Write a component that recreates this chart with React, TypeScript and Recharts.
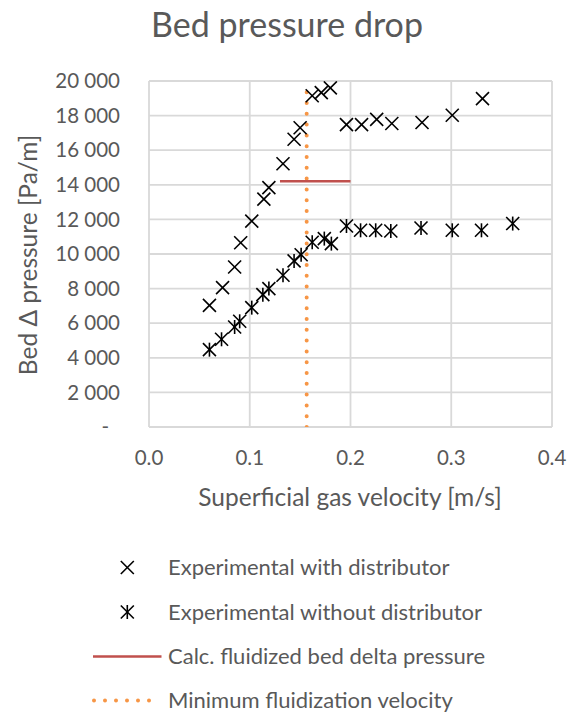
import {
  ComposedChart,
  Scatter,
  Line,
  XAxis,
  YAxis,
  CartesianGrid,
  Legend,
  Customized,
} from 'recharts'

// values
const withDistX = [0.060, 0.073, 0.085, 0.091, 0.102, 0.114, 0.119, 0.133, 0.144, 0.150, 0.162, 0.171, 0.180, 0.196, 0.211, 0.226, 0.241, 0.271, 0.301, 0.331]
const withDistY = [7030, 8060, 9250, 10650, 11900, 13170, 13840, 15220, 16630, 17300, 19150, 19330, 19600, 17480, 17480, 17780, 17540, 17600, 18020, 18980]

const withoutDistX = [0.060, 0.072, 0.085, 0.090, 0.102, 0.113, 0.119, 0.133, 0.144, 0.151, 0.162, 0.174, 0.181, 0.196, 0.210, 0.225, 0.240, 0.270, 0.301, 0.330, 0.361]
const withoutDistY = [4470, 5070, 5780, 6110, 6900, 7650, 8000, 8770, 9600, 9960, 10680, 10890, 10600, 11620, 11370, 11370, 11330, 11500, 11370, 11370, 11760]

const calcLineX = [0.13, 0.2]
const calcLineY = [14200, 14200]

const umfX = [0.1565, 0.1565]
const umfY = [0, 19650]

const xTicks = [0, 0.1, 0.2, 0.3, 0.4]
const yTicks = [0, 2000, 4000, 6000, 8000, 10000, 12000, 14000, 16000, 18000, 20000]

const legendNames = [
  'Experimental with distributor',
  'Experimental without distributor',
  'Calc. fluidized bed delta pressure',
  'Minimum fluidization velocity',
]

const zip = (xs: number[], ys: number[]) => xs.map((x, i) => ({ x, y: ys[i] }))

const withDist = zip(withDistX, withDistY)
const withoutDist = zip(withoutDistX, withoutDistY)
const calcLine = zip(calcLineX, calcLineY)
const umfLine = zip(umfX, umfY)

const FONT = 'Lato, "Noto Sans", sans-serif'
const TEXT = '#595959'
const RED = '#c0504d'
const ORANGE = '#f79646'

const fmtY = (v: number) => (v === 0 ? '-' : String(v).replace(/\B(?=(\d{3})+(?!\d))/g, ' '))

function XMark({ cx, cy, r = 6.5 }: any) {
  return (
    <g stroke="#000" strokeWidth={1.6} fill="none">
      <line x1={cx - r} y1={cy - r} x2={cx + r} y2={cy + r} />
      <line x1={cx - r} y1={cy + r} x2={cx + r} y2={cy - r} />
    </g>
  )
}

function StarMark({ cx, cy, r = 6.5 }: any) {
  return (
    <g stroke="#000" strokeWidth={1.6} fill="none">
      <line x1={cx - r} y1={cy - r} x2={cx + r} y2={cy + r} />
      <line x1={cx - r} y1={cy + r} x2={cx + r} y2={cy - r} />
      <line x1={cx} y1={cy - r - 0.5} x2={cx} y2={cy + r + 0.5} />
    </g>
  )
}

function YTick({ x, y, payload }: any) {
  return (
    <text
      x={payload.value === 0 ? x - 11 : x}
      y={y}
      dy="0.35em"
      textAnchor="end"
      fill={TEXT}
      fontSize={20.5}
      fontFamily={FONT}
    >
      {fmtY(payload.value)}
    </text>
  )
}

function XTick({ x, y, payload }: any) {
  return (
    <text x={x} y={y + 31} dy="0.35em" textAnchor="middle" fill={TEXT} fontSize={20.5} fontFamily={FONT}>
      {payload.value.toFixed(1)}
    </text>
  )
}

function Title() {
  return (
    <g fontFamily={FONT} fill={TEXT}>
      <text x={287} y={37} textAnchor="middle" fontSize={34}>
        Bed pressure drop
      </text>
      <text
        x={28}
        y={255}
        dy="0.35em"
        textAnchor="middle"
        fontSize={24.5}
        transform="rotate(-90 28 255)"
      >
        Bed Δ pressure [Pa/m]
      </text>
      <text x={350} y={497} dy="0.35em" textAnchor="middle" fontSize={24.5}>
        Superficial gas velocity [m/s]
      </text>
    </g>
  )
}

function LegendBox() {
  const rows = [27.5, 72, 116.5, 160.5]
  const tx = 168
  return (
    <svg width={575} height={173} style={{ display: 'block', overflow: 'visible' }}>
      <XMark cx={127.3} cy={rows[0]} />
      <StarMark cx={127.3} cy={rows[1]} />
      <line x1={93} y1={rows[2]} x2={161.5} y2={rows[2]} stroke={RED} strokeWidth={2.5} />
      <line
        x1={94}
        y1={rows[3]}
        x2={160}
        y2={rows[3]}
        stroke={ORANGE}
        strokeWidth={4}
        strokeLinecap="round"
        strokeDasharray="0 11"
      />
      {legendNames.map((n, i) => (
        <text key={n} x={tx} y={rows[i]} dy="0.35em" fill={TEXT} fontSize={22} fontFamily={FONT}>
          {n}
        </text>
      ))}
    </svg>
  )
}

export default function App() {
  return (
    <div style={{ position: 'absolute', left: 0, top: 0, width: 575, height: 713, background: '#fff' }}>
      <ComposedChart width={575} height={713} margin={{ top: 81, right: 23, bottom: 256, left: 0 }}>
        <CartesianGrid stroke="#d9d9d9" strokeWidth={1.8} />
        <XAxis
          type="number"
          dataKey="x"
          domain={[0, 0.4]}
          ticks={xTicks}
          height={30}
          axisLine={false}
          tickLine={false}
          tickSize={0}
          tickMargin={0}
          tick={<XTick />}
          allowDataOverflow
        />
        <YAxis
          type="number"
          dataKey="y"
          domain={[0, 20000]}
          ticks={yTicks}
          width={149}
          axisLine={false}
          tickLine={false}
          tickSize={0}
          tickMargin={29}
          tick={<YTick />}
          interval={0}
          allowDataOverflow
        />
        <Line
          data={umfLine}
          dataKey="y"
          stroke={ORANGE}
          strokeWidth={4}
          strokeLinecap="round"
          strokeDasharray="0 10.8"
          dot={false}
          activeDot={false}
          isAnimationActive={false}
          name={legendNames[3]}
        />
        <Line
          data={calcLine}
          dataKey="y"
          stroke={RED}
          strokeWidth={2.5}
          dot={false}
          activeDot={false}
          isAnimationActive={false}
          name={legendNames[2]}
        />
        <Scatter
          data={withDist}
          dataKey="y"
          shape={(p: any) => <XMark cx={p.cx} cy={p.cy} />}
          isAnimationActive={false}
          name={legendNames[0]}
        />
        <Scatter
          data={withoutDist}
          dataKey="y"
          shape={(p: any) => <StarMark cx={p.cx} cy={p.cy} />}
          isAnimationActive={false}
          name={legendNames[1]}
        />
        <Legend
          layout="horizontal"
          verticalAlign="middle"
          align="center"
          wrapperStyle={{ left: 0, top: 540, width: 575, height: 173 }}
          content={() => <LegendBox />}
        />
        <Customized component={Title} />
      </ComposedChart>
    </div>
  )
}
